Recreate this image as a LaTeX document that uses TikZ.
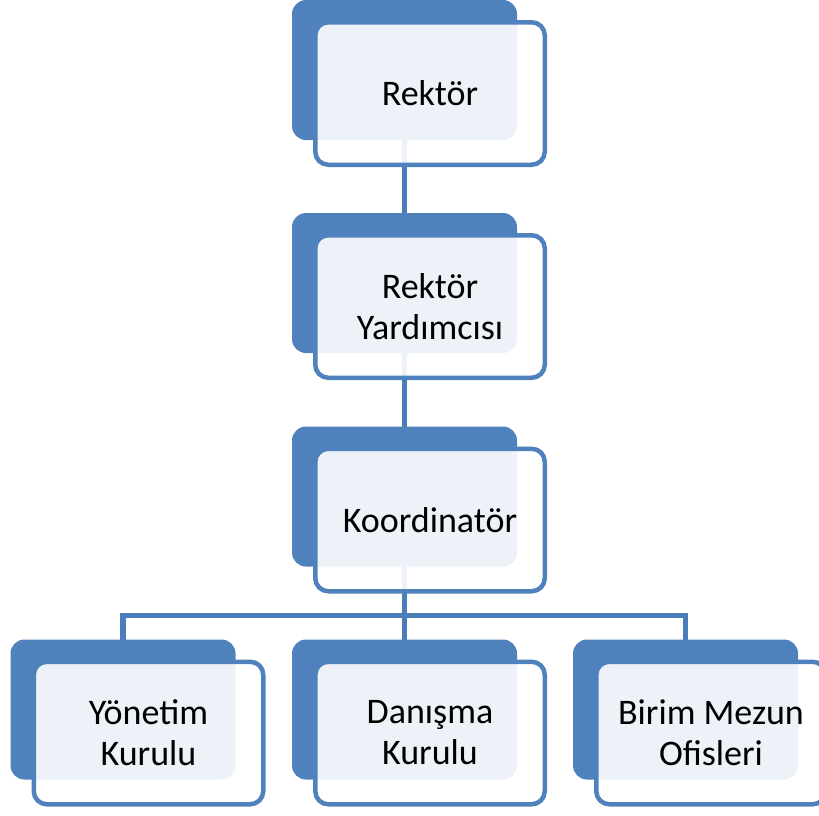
\documentclass[tikz,border=0pt]{standalone}
\usepackage{fontspec}
\setmainfont{Carlito}
\usetikzlibrary{backgrounds}
\definecolor{accent}{HTML}{4F81BD}
\definecolor{linkc}{HTML}{4A7EBB}
\begin{document}
\begin{tikzpicture}[x=1pt,y=-1pt,
  backbox/.style={rectangle,rounded corners=14pt,fill=accent,draw=none,minimum width=225pt,minimum height=140pt,inner sep=0pt,outer sep=0pt},
  frontbox/.style={rectangle,rounded corners=13pt,draw=accent,line width=4.5pt,fill=white,fill opacity=0.9,text opacity=1,minimum width=229.5pt,minimum height=142.5pt,inner sep=0pt,align=center,font=\fontsize{36}{41}\selectfont},
  link/.style={draw=linkc,line width=5.5pt}]
\useasboundingbox (0,0) rectangle (819,815);
\clip (0,0) rectangle (819,815);
\node[backbox] (b1) at (404.5,70) {};
\node[frontbox] (f1) at (430,93.5) {Rektör};
\node[backbox] (b2) at (404.5,283) {};
\node[frontbox] (f2) at (430,306.5) {Rektör\\Yardımcısı};
\node[backbox] (b3) at (404.5,496.5) {};
\node[frontbox] (f3) at (430,520) {Koordinatör};
\node[backbox] (b4) at (123,709.5) {};
\node[frontbox] (f4) at (148.5,733) {Yönetim\\Kurulu};
\node[backbox] (b5) at (404.5,709.5) {};
\node[frontbox] (f5) at (430,733) {Danışma\\Kurulu};
\node[backbox] (b6) at (685.5,709.5) {};
\node[frontbox] (f6) at (711,733) {Birim Mezun\\Ofisleri};
\coordinate (j) at (404.5,615.5);
\begin{scope}[on background layer]
\draw[link] (b1.center) -- (b2.center);
\draw[link] (b2.center) -- (b3.center);
\draw[link] (b3.center) -- (b5.center);
\draw[link] (b4.center) |- (j) -| (b6.center);
\end{scope}
\end{tikzpicture}
\end{document}
